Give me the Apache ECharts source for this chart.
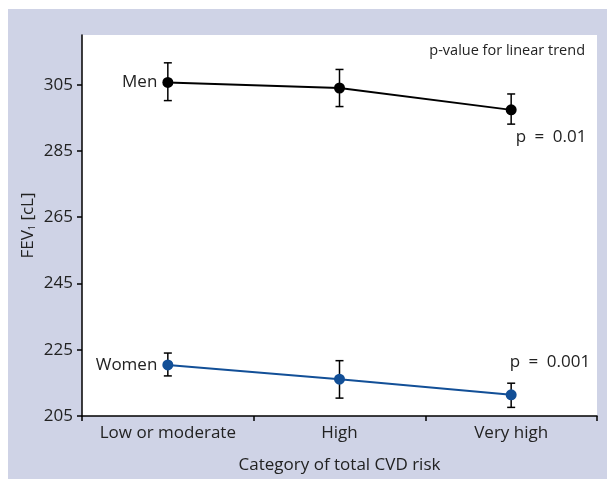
<!DOCTYPE html>
<html>
<head>
    <meta charset="utf-8">
    <title>FEV1 by CVD risk</title>
    <script src="https://cdn.jsdelivr.net/npm/echarts@6/dist/echarts.min.js"></script>
    <style>
        body { margin: 0; background: #fff; }
        #main { position: absolute; left: 8px; top: 9px; width: 599px; height: 470px; }
    </style>
</head>
<body>
    <div id="main"></div>
    <script type="text/javascript">
    var myChart = echarts.init(document.getElementById('main'));

    // data
    var categories = ['Low or moderate', 'High', 'Very high'];
    var yTicks = [205, 225, 245, 265, 285, 305];

    var menMean = [305.7, 304.0, 297.4];
    var menHigh = [311.6, 309.6, 302.2];
    var menLow = [300.2, 298.4, 293.1];

    var womenMean = [220.4, 216.1, 211.4];
    var womenHigh = [224.0, 221.7, 214.9];
    var womenLow = [217.1, 210.4, 207.6];

    var menColor = '#000000';
    var womenColor = '#124f97';
    var font = 'Open Sans';

    function errData(hi, lo) {
        var out = [];
        for (var i = 0; i < hi.length; i++) out.push([i, hi[i], lo[i]]);
        return out;
    }

    function errorBars(color) {
        return function (params, api) {
            var x = api.value(0);
            var top = api.coord([x, api.value(1)]);
            var bot = api.coord([x, api.value(2)]);
            var w = 4;
            var st = { stroke: color, lineWidth: 1.5 };
            return {
                type: 'group',
                children: [
                    { type: 'line', shape: { x1: top[0], y1: top[1], x2: bot[0], y2: bot[1] }, style: st },
                    { type: 'line', shape: { x1: top[0] - w, y1: top[1], x2: top[0] + w, y2: top[1] }, style: st },
                    { type: 'line', shape: { x1: bot[0] - w, y1: bot[1], x2: bot[0] + w, y2: bot[1] }, style: st }
                ]
            };
        };
    }

    function meanData(vals, first, last) {
        return vals.map(function (v, i) {
            if (i === 0) return { value: v, label: first };
            if (i === vals.length - 1) return { value: v, label: last };
            return v;
        });
    }

    var labelText = { show: true, color: '#222', fontFamily: font, fontSize: 17 };

    option = {
        backgroundColor: '#cfd3e6',
        animation: false,
        textStyle: { fontFamily: font },
        title: {
            text: 'p-value for linear trend',
            right: 17,
            top: 29,
            textStyle: { fontSize: 14.5, fontWeight: 'normal', color: '#222', fontFamily: font }
        },
        grid: {
            left: 74, right: 10, top: 26, bottom: 58,
            show: true, backgroundColor: '#ffffff', borderWidth: 0
        },
        xAxis: {
            type: 'category',
            data: categories,
            boundaryGap: true,
            name: 'Category of total CVD risk',
            nameLocation: 'middle',
            nameGap: 41,
            nameTextStyle: { fontSize: 17, color: '#222', fontFamily: font },
            axisLine: { lineStyle: { color: '#000', width: 1.5 } },
            axisTick: { show: true, interval: 0, length: 5, lineStyle: { color: '#000', width: 1.5 } },
            axisLabel: { interval: 0, hideOverlap: false, fontSize: 17, color: '#222', margin: 9, fontFamily: font },
            splitLine: { show: false }
        },
        yAxis: {
            type: 'value',
            min: 205,
            max: 320,
            name: '{a|FEV}{s|1}{a| [cL]}',
            nameLocation: 'middle',
            nameGap: 45,
            nameMoveOverlap: false,
            nameTextStyle: {
                rich: {
                    a: { fontSize: 17, color: '#222', fontFamily: font },
                    s: { fontSize: 9, color: '#222', fontFamily: font, verticalAlign: 'bottom', padding: [7, 0, 0, 0] }
                }
            },
            axisLine: { show: true, lineStyle: { color: '#000', width: 1.5 } },
            axisTick: { show: true, length: 5, customValues: yTicks, lineStyle: { color: '#000', width: 1.5 } },
            axisLabel: { fontSize: 17, color: '#222', margin: 9, customValues: yTicks, fontFamily: font },
            splitLine: { show: false }
        },
        series: [
            {
                name: 'Men',
                type: 'line',
                data: meanData(menMean,
                    Object.assign({}, labelText, { position: 'left', distance: 5, formatter: 'Men' }),
                    Object.assign({}, labelText, { position: 'right', offset: [-6, 27], formatter: 'p\u2002=\u20020.01' })),
                symbol: 'circle',
                symbolSize: 11,
                itemStyle: { color: menColor },
                lineStyle: { color: menColor, width: 2 },
                z: 3
            },
            {
                name: 'Women',
                type: 'line',
                data: meanData(womenMean,
                    Object.assign({}, labelText, { position: 'left', distance: 5, formatter: 'Women' }),
                    Object.assign({}, labelText, { position: 'right', offset: [-12, -33], formatter: 'p\u2002=\u20020.001' })),
                symbol: 'circle',
                symbolSize: 11,
                itemStyle: { color: womenColor },
                lineStyle: { color: womenColor, width: 2 },
                z: 3
            },
            {
                type: 'custom',
                renderItem: errorBars('#000'),
                data: errData(menHigh, menLow),
                z: 2
            },
            {
                type: 'custom',
                renderItem: errorBars('#000'),
                data: errData(womenHigh, womenLow),
                z: 2
            }
        ]
    };

    myChart.setOption(option);
    </script>
</body>
</html>
